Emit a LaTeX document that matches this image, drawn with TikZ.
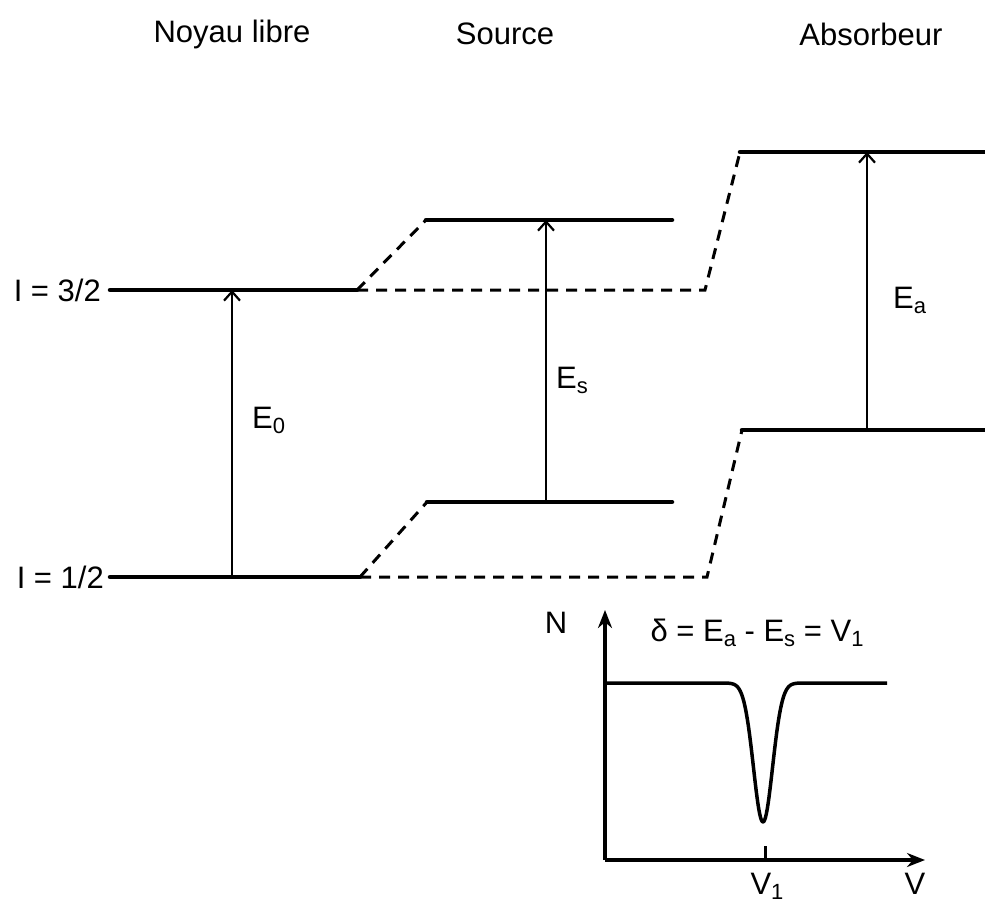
\documentclass[tikz,border=0pt]{standalone}
\usepackage{fontspec}
\setmainfont{Liberation Sans}
\usetikzlibrary{arrows.meta}
\newcommand{\sbx}[1]{\raisebox{-0.3ex}{\fontsize{22}{22}\selectfont #1}}
\begin{document}
\begin{tikzpicture}[x=1pt,y=-1pt,
  font=\fontsize{31}{36}\selectfont,
  level/.style={line width=4.5pt, line cap=round},
  link/.style={line width=3pt, dash pattern=on 11pt off 8pt},
  trans/.style={line width=2.2pt, -{Straight Barb[length=9pt,width=16pt,line width=2.2pt]}},
  axis/.style={line width=3.5pt, -{Stealth[length=18pt,width=14pt]}},
  lbl/.style={inner sep=0pt}]
\useasboundingbox (0,0) rectangle (985,907);

% titles
\node[lbl] (t1) at (232,34) {Noyau libre};
\node[lbl] (t2) at (505,34) {Source};
\node[lbl] (t3) at (871,34) {Absorbeur};

% free nucleus levels
\coordinate (f3a) at (110,290); \coordinate (f3b) at (357,290);
\coordinate (f1a) at (110,577); \coordinate (f1b) at (360,577);
\node[lbl,anchor=east] (l3) at (101,290) {I = 3/2};
\node[lbl,anchor=east] (l1) at (104,577) {I = 1/2};
\draw[level] (f3a) -- (f3b);
\draw[level] (f1a) -- (f1b);

% source levels
\coordinate (s3a) at (426,220); \coordinate (s3b) at (672,220);
\coordinate (s1a) at (427,502); \coordinate (s1b) at (672,502);
\draw[level] (s3a) -- (s3b);
\draw[level] (s1a) -- (s1b);

% absorber levels
\coordinate (a3a) at (740,152); \coordinate (a3b) at (985,152);
\coordinate (a1a) at (742,430); \coordinate (a1b) at (985,430);
\draw[level] (a3a) -- (a3b);
\draw[level] (a1a) -- (a1b);

% dashed links
\coordinate (k3) at (705,290);
\coordinate (k1) at (707,577);
\draw[link] (f3b) -- (s3a);
\draw[link] (f1b) -- (s1a);
\draw[link] (f3b) -- (k3) -- (a3a);
\draw[link] (f1b) -- (k1) -- (a1a);

% transitions
\coordinate (e0b) at (232,577); \coordinate (e0t) at (232,290);
\coordinate (esb) at (546,502); \coordinate (est) at (546,220);
\coordinate (eab) at (867,430); \coordinate (eat) at (867,152);
\draw[trans] (e0b) -- (e0t);
\draw[trans] (esb) -- (est);
\draw[trans] (eab) -- (eat);
\node[lbl,anchor=west] (E0) at (252,420) {E\sbx{0}};
\node[lbl,anchor=west] (Es) at (556,380) {E\sbx{s}};
\node[lbl,anchor=west] (Ea) at (893,300) {E\sbx{a}};

% inset spectrum
\coordinate (o) at (605,860);
\coordinate (ytop) at (605,610);
\coordinate (xend) at (925,860);
\draw[axis] (o) -- (ytop);
\draw[axis] (o) -- (xend);
\coordinate (tk) at (765,846);
\draw[line width=3pt] (tk) -- (765,860);
\draw[line width=3.5pt, line join=round]
  (607,683) -- (707,683)
  -- plot[domain=707:819, samples=120] (\x, {683+139*exp(-((\x-763)/13.5)^2)})
  -- (887,683);
\node[lbl] (N) at (556,623) {N};
\node[lbl] (form) at (757,633) {δ = E\sbx{a} - E\sbx{s} = V\sbx{1}};
\node[lbl] (V1) at (767,886) {V\sbx{1}};
\node[lbl] (V) at (915,884) {V};
\end{tikzpicture}
\end{document}
